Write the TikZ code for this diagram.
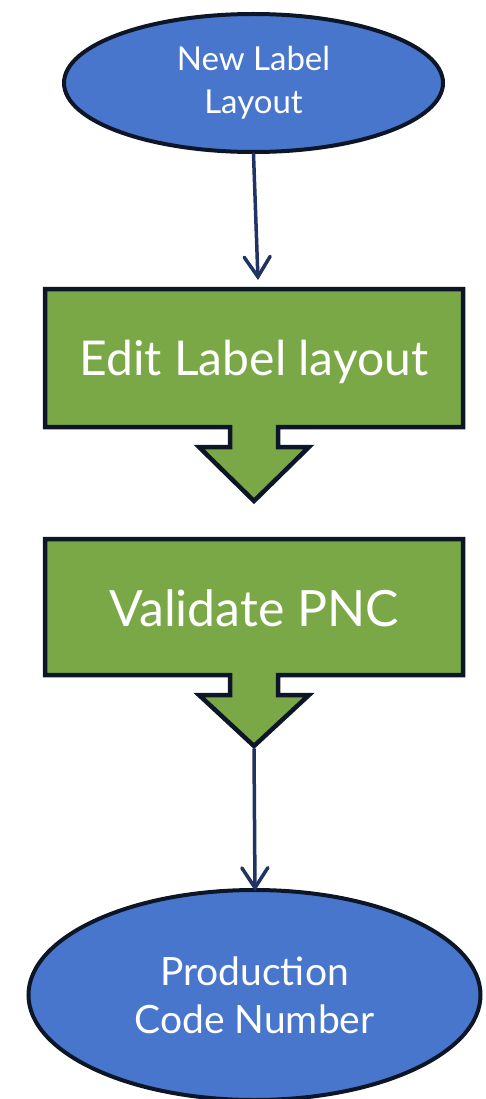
\documentclass[tikz,border=0pt]{standalone}
\usepackage{fontspec}
\setmainfont{Lato}
\usetikzlibrary{shapes.geometric,arrows.meta}
\definecolor{ovalblue}{HTML}{4876CC}
\definecolor{boxgreen}{HTML}{7BA847}
\definecolor{edge}{HTML}{0D1626}
\definecolor{connector}{HTML}{1F3462}
\tikzset{
  oval/.style={ellipse, fill=ovalblue, draw=edge, line width=4pt, inner sep=0pt, text=white, align=center},
  stepshape/.style={fill=boxgreen, draw=edge, line width=4.5pt, line join=miter},
  steptext/.style={text=white, inner sep=0pt},
  conn/.style={draw=connector, line width=3.5pt, line cap=round, -{Straight Barb[length=20pt,width=26pt,line cap=round]}}
}
\begin{document}
\begin{tikzpicture}[x=1pt,y=-1pt]
\useasboundingbox (0,0) rectangle (485,1099);
% top oval
\node[oval, minimum width=379pt, minimum height=138pt, font=\fontsize{33}{43}\selectfont] (start) at (253.5,83) {New Label\\Layout};
% step 1
\path[stepshape] (45,289) -- (463,289) -- (463,427) -- (278,427) -- (278,447) -- (309,447) -- (254,501) -- (199,447) -- (230,447) -- (230,427) -- (45,427) -- cycle;
\node[steptext, font=\fontsize{48}{52}\selectfont] (edit) at (254,362) {Edit Label layout};
% step 2
\path[stepshape] (45,539) -- (463,539) -- (463,675) -- (278,675) -- (278,695) -- (309,695) -- (254,746) -- (199,695) -- (230,695) -- (230,675) -- (45,675) -- cycle;
\node[steptext, font=\fontsize{50}{54}\selectfont] (valid) at (254,608) {Validate PNC};
\coordinate (tip2) at (254,749);
% bottom oval
\node[oval, minimum width=452pt, minimum height=210pt, font=\fontsize{39}{48}\selectfont] (end) at (254.5,995) {Production\\Code Number};
% connectors
\coordinate (a1end) at (258,280);
\draw[conn] (start.south) -- (a1end);
\draw[conn] (tip2) -- ([xshift=0.5pt,yshift=-3pt]end.north);
\end{tikzpicture}
\end{document}
